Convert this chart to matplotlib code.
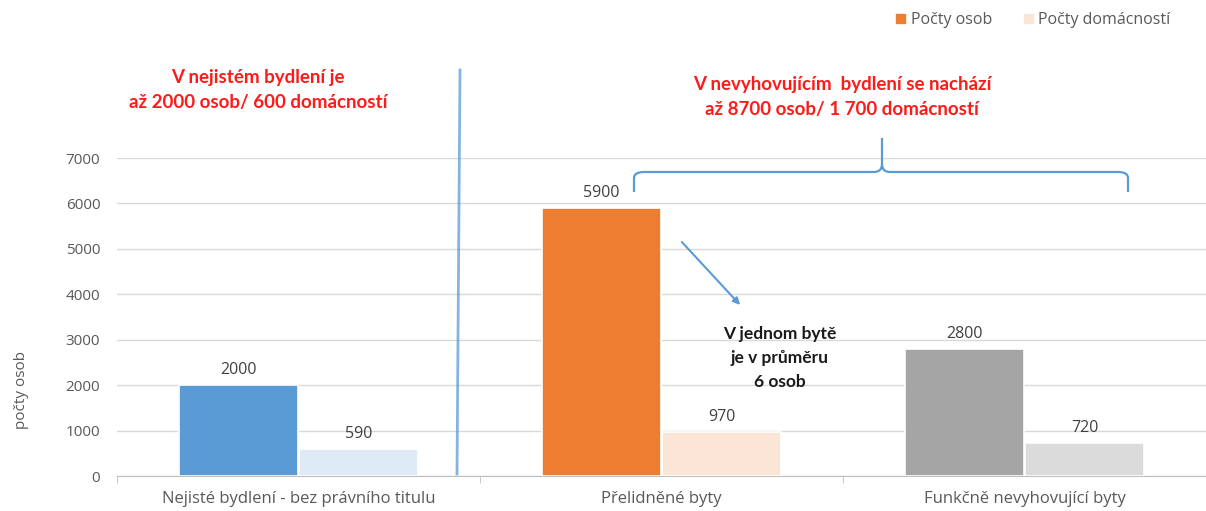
import matplotlib.pyplot as plt
import numpy as np
from matplotlib.lines import Line2D
from matplotlib.path import Path
from matplotlib.patches import PathPatch, FancyArrowPatch

plt.rcParams['font.family'] = ['Open Sans', 'DejaVu Sans']

# -- data
categories = ['Nejisté bydlení - bez právního titulu', 'Přelidněné byty', 'Funkčně nevyhovující byty']
osoby = [2000, 5900, 2800]
domacnosti = [590, 970, 720]
osoby_colors = ['#5b9bd5', '#ed7d31', '#a5a5a5']
domacnosti_colors = ['#deebf7', '#fbe5d6', '#dbdbdb']
yticks = [0, 1000, 2000, 3000, 4000, 5000, 6000, 7000]

W, H = 1206, 511
fig = plt.figure(figsize=[W / 100, H / 100], dpi=100)
fig.patch.set_facecolor('white')


def px(x, y):
    # pixel position (from top-left) -> figure fraction
    return x / W, 1 - y / H


ax = fig.add_axes([117 / W, 35 / H, (W - 117) / W, 318 / H])
x = np.arange(len(categories))
bw = 0.327
ax.bar(x - 0.166, osoby, bw, color=osoby_colors, edgecolor='white', linewidth=1.2, zorder=3)
ax.bar(x + 0.166, domacnosti, bw, color=domacnosti_colors, edgecolor='white', linewidth=1.2, zorder=3)

for i in range(len(categories)):
    ax.text(x[i] - 0.166, osoby[i] + 150, str(osoby[i]), ha='center', va='bottom',
            fontsize=11.5, color='#404040')
    ax.text(x[i] + 0.166, domacnosti[i] + 150, str(domacnosti[i]), ha='center', va='bottom',
            fontsize=11.5, color='#404040')

ax.set_xlim(-0.5, (W - 300) / 365)
ax.set_ylim(0, 7000)
ax.set_yticks(yticks)
ax.set_yticklabels([str(v) for v in yticks], fontsize=11, color='#595959')
ax.yaxis.grid(True, color='#d9d9d9', linewidth=1.0, zorder=0)
ax.set_axisbelow(True)
ax.tick_params(axis='y', length=0, pad=12)
ax.set_xticks(x)
ax.set_xticklabels(categories, fontsize=12, color='#595959')
ax.set_xticks(np.arange(-0.5, 3.0, 1.0), minor=True)
ax.tick_params(axis='x', which='major', length=0, pad=11)
ax.tick_params(axis='x', which='minor', length=5, color='#bfbfbf', direction='out')
for s in ['top', 'right', 'left']:
    ax.spines[s].set_visible(False)
ax.spines['bottom'].set_color('#bfbfbf')
ax.set_ylabel('počty osob', fontsize=11, color='#595959')
ax.yaxis.set_label_coords(-0.081, 0.27)

# -- legend
handles = [plt.Rectangle((0, 0), 1, 1, color=osoby_colors[1]),
           plt.Rectangle((0, 0), 1, 1, color=domacnosti_colors[1])]
fig.legend(handles, ['Počty osob', 'Počty domácností'], loc='center left',
           bbox_to_anchor=px(882, 20), ncol=2, frameon=False, fontsize=11.5,
           handlelength=0.55, handleheight=0.55, handletextpad=0.35, columnspacing=2.0,
           labelcolor='#595959')

# -- separator line
fig.add_artist(Line2D([460 / W, 457 / W], [1 - 70 / H, 1 - 474 / H], color='#5b9bd5',
                      linewidth=2, alpha=0.75))

# -- brace
xl, xm, xr = 634, 882, 1128
yb, yh, yt = 192, 172, 138
verts = [px(xl, yb), px(xl, yh + 6), px(xl, yh), px(xl + 10, yh),
         px(xm - 8, yh), px(xm, yh), px(xm, yh - 8),
         px(xm, yt),
         px(xm, yh - 8), px(xm, yh), px(xm + 8, yh),
         px(xr - 10, yh), px(xr, yh), px(xr, yh + 6), px(xr, yb)]
codes = [Path.MOVETO, Path.LINETO, Path.CURVE3, Path.CURVE3,
         Path.LINETO, Path.CURVE3, Path.CURVE3,
         Path.LINETO,
         Path.MOVETO, Path.CURVE3, Path.CURVE3,
         Path.LINETO, Path.CURVE3, Path.CURVE3, Path.LINETO]
fig.add_artist(PathPatch(Path(verts, codes), facecolor='none', edgecolor='#5b9bd5',
                         linewidth=1.6, transform=fig.transFigure))

# -- arrow
fig.add_artist(FancyArrowPatch(px(680, 240), px(742, 307), transform=fig.transFigure,
                               arrowstyle='-|>', mutation_scale=10, color='#5b9bd5',
                               linewidth=1.5))

# -- annotations
fig.text(*px(258, 90), 'V nejistém bydlení je\naž 2000 osob/ 600 domácností', ha='center',
         va='center', fontsize=13.5, fontweight='bold', color='#ff1a1a', linespacing=1.53,
         family=['Lato', 'DejaVu Sans'])
fig.text(*px(842, 97), 'V nevyhovujícím  bydlení se nachází\naž 8700 osob/ 1 700 domácností',
         ha='center', va='center', fontsize=13.5, fontweight='bold', color='#ff1a1a',
         linespacing=1.53, family=['Lato', 'DejaVu Sans'])
fig.text(*px(780, 358), 'V jednom bytě\nje v průměru\n6 osob', ha='center', va='center',
         fontsize=12.5, fontweight='bold', color='#1a1a1a', linespacing=1.62,
         family=['Lato', 'DejaVu Sans'])

fig.savefig('out.png', dpi=100, facecolor='white')
